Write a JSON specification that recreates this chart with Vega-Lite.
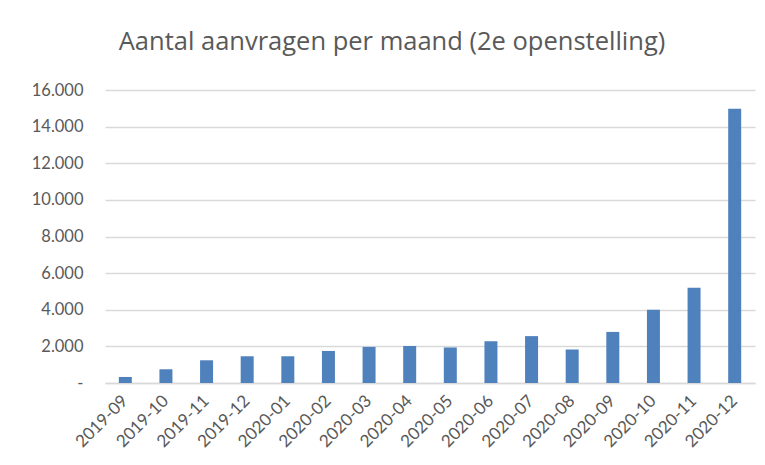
{
  "$schema": "https://vega.github.io/schema/vega-lite/v6.json",
  "width": 650,
  "height": 293,
  "autosize": {"type": "none"},
  "padding": {"left": 105, "top": 90, "right": 10, "bottom": 82},
  "background": "white",
  "title": {
    "text": "Aantal aanvragen per maand (2e openstelling)",
    "font": "Open Sans",
    "fontSize": 25.5,
    "fontWeight": "normal",
    "color": "#595959",
    "anchor": "middle",
    "dx": -38,
    "offset": 27
  },
  "data": {
    "values": [
      {"maand": "2019-09", "aantal": 330},
      {"maand": "2019-10", "aantal": 750},
      {"maand": "2019-11", "aantal": 1240},
      {"maand": "2019-12", "aantal": 1460},
      {"maand": "2020-01", "aantal": 1460},
      {"maand": "2020-02", "aantal": 1750},
      {"maand": "2020-03", "aantal": 1970},
      {"maand": "2020-04", "aantal": 2020},
      {"maand": "2020-05", "aantal": 1940},
      {"maand": "2020-06", "aantal": 2280},
      {"maand": "2020-07", "aantal": 2560},
      {"maand": "2020-08", "aantal": 1830},
      {"maand": "2020-09", "aantal": 2790},
      {"maand": "2020-10", "aantal": 4000},
      {"maand": "2020-11", "aantal": 5200},
      {"maand": "2020-12", "aantal": 14980}
    ]
  },
  "mark": {"type": "bar", "color": "#4f81bd"},
  "encoding": {
    "x": {
      "field": "maand",
      "type": "ordinal",
      "sort": null,
      "scale": {"paddingInner": 0.68, "paddingOuter": 0.34},
      "axis": {
        "title": null,
        "labelAngle": -45,
        "labelAlign": "right",
        "labelBaseline": "middle",
        "labelPadding": 15,
        "labelFont": "Lato",
        "labelFontSize": 17,
        "labelColor": "#595959",
        "ticks": false,
        "domainColor": "#d9d9d9",
        "domainWidth": 1.5
      }
    },
    "y": {
      "field": "aantal",
      "type": "quantitative",
      "scale": {"domain": [0, 16000], "nice": false},
      "axis": {
        "title": null,
        "values": [0, 2000, 4000, 6000, 8000, 10000, 12000, 14000, 16000],
        "labelExpr": "datum.value == 0 ? '-' : replace(format(datum.value, ',.0f'), ',', '.')",
        "labelFont": "Lato",
        "labelFontSize": 16.5,
        "labelColor": "#595959",
        "labelPadding": 22,
        "ticks": false,
        "domain": false,
        "gridColor": "#d9d9d9",
        "gridWidth": 1.5
      }
    }
  },
  "config": {"view": {"stroke": null}}
}
